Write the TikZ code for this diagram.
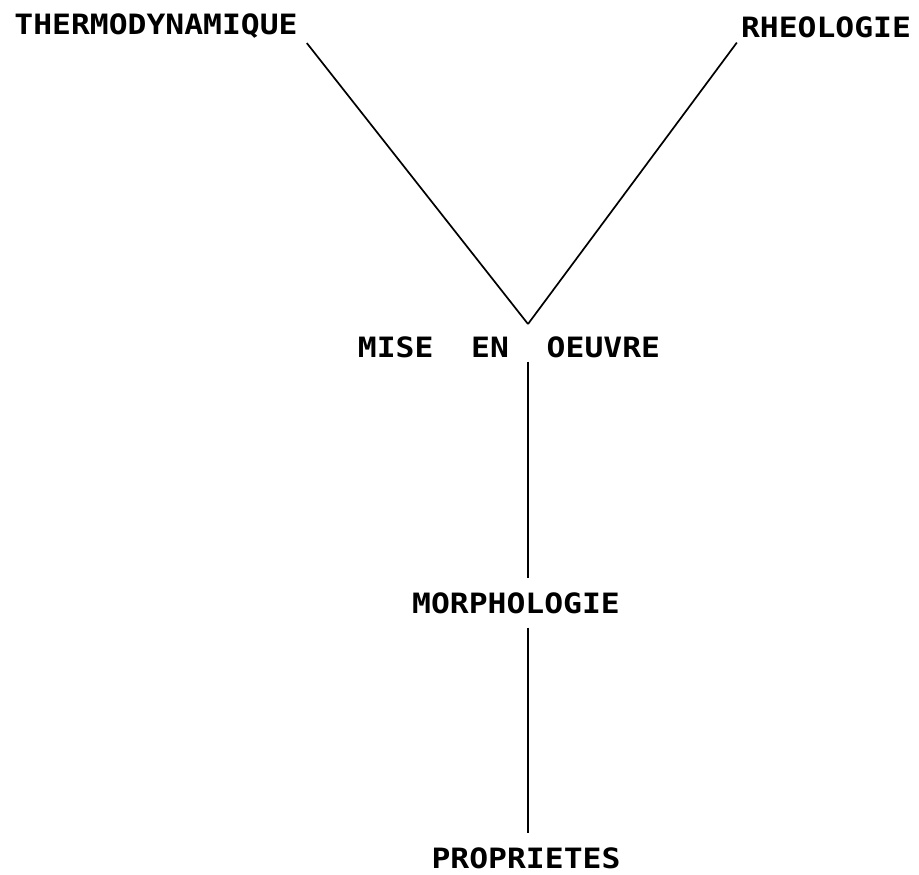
\documentclass[tikz,border=0pt]{standalone}
\usepackage{fontspec}
\newfontfamily\topicfont{DejaVu Sans Mono}[FakeStretch=1.12]
\usetikzlibrary{calc,positioning}

\begin{document}
\begin{tikzpicture}[x=1pt,y=-1pt,
  topic/.style={font={\fontsize{28}{30}\topicfont\bfseries}, inner sep=4pt, anchor=base},
  link/.style={line width=1.7pt}]
\useasboundingbox (0,0) rectangle (919,875);

\node[topic] (thermo) at (156,35) {THERMODYNAMIQUE};
\node[topic] (rheo) at (826,38) {RHEOLOGIE};
\node[topic] (mise) at (509,357) {MISE~~EN~~OEUVRE};
\node[topic, inner ysep=14pt] (morph) at (516,613) {MORPHOLOGIE};
\node[topic, inner ysep=14pt] (prop) at (526,868) {PROPRIETES};

\coordinate (v) at ($(mise.north)+(19,-8)$);

\draw[link] ($(thermo.south east)+(5,0)$) -- (v);
\draw[link] (rheo.south west) -- (v);

\draw[link] (mise.south -| v) -- (morph.north -| v);
\draw[link] (morph.south -| v) -- (prop.north -| v);

\end{tikzpicture}
\end{document}
